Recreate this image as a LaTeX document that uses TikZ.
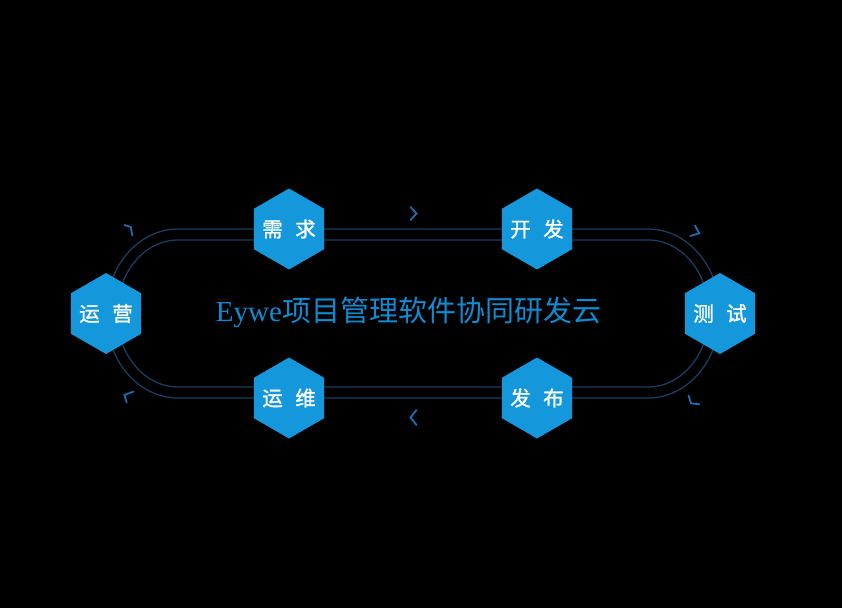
\documentclass[tikz,border=0pt]{standalone}
\usepackage{fontspec}
\setmainfont{Liberation Serif}
\newfontfamily\cjk{Noto Sans CJK SC}
\newfontfamily\cjkm{Noto Sans CJK SC}[AutoFakeBold=1.2]
\usetikzlibrary{shapes.geometric}
\definecolor{hexblue}{HTML}{1498DB}
\definecolor{trackc}{HTML}{1B3D60}
\definecolor{chevc}{HTML}{1F6DB0}
\definecolor{titlec}{HTML}{0E8CD2}
\tikzset{
  hexnode/.style={regular polygon, regular polygon sides=6, shape border rotate=30,
    minimum size=81pt, inner sep=0pt, fill=hexblue, draw=none},
  hexlabel/.style={text=white, inner sep=0pt,
    font=\cjkm\bfseries\fontsize{20.5}{20.5}\selectfont},
  track/.style={draw=trackc, line width=1.3pt},
  chev/.style={draw=chevc, line width=1.8pt, line cap=round, line join=miter},
}
\newcommand{\hexlab}[2]{#1\hspace{12.5pt}#2}
\begin{document}
\begin{tikzpicture}[x=1pt,y=1pt]
\fill[black] (0,0) rectangle (842,608);
\useasboundingbox (0,0) rectangle (842,608);
% tracks
\draw[track] (178,379) -- (648,379) arc[start angle=90, end angle=-90, x radius=72pt, y radius=84.5pt]
  -- (178,210) arc[start angle=-90, end angle=-270, x radius=72pt, y radius=84.5pt] -- cycle;
\draw[track] (178,368) -- (648,368) arc[start angle=90, end angle=-90, x radius=61pt, y radius=73.5pt]
  -- (178,221) arc[start angle=-90, end angle=-270, x radius=61pt, y radius=73.5pt] -- cycle;
% chevrons
\draw[chev] (410.5,401) -- (416.5,394.5) -- (410.5,388);
\draw[chev] (416.5,198) -- (410.5,190.5) -- (416.5,183);
\draw[chev] (124.5,383) -- (130.8,381) -- (132.3,372.5);
\draw[chev] (133.3,216.3) -- (124.5,213) -- (126.7,205.5);
\draw[chev] (695,382.5) -- (699.3,374.7) -- (690.3,372);
\draw[chev] (688.5,212.5) -- (691,204.7) -- (699.3,203.7);
% hexagons
\node[hexnode, label={[hexlabel]center:\hexlab{需}{求}}] (xq) at (289,379) {};
\node[hexnode, label={[hexlabel]center:\hexlab{开}{发}}] (kf) at (537,379) {};
\node[hexnode, label={[hexlabel]center:\hexlab{测}{试}}] (cs) at (720,294.5) {};
\node[hexnode, label={[hexlabel]center:\hexlab{发}{布}}] (fb) at (537,210) {};
\node[hexnode, label={[hexlabel]center:\hexlab{运}{维}}] (yw) at (289,210) {};
\node[hexnode, label={[hexlabel]center:\hexlab{运}{营}}] (yy) at (106,294.5) {};
% title
\node[text=titlec, font=\fontsize{29}{29}\selectfont, inner sep=0pt] (title) at (408.5,296)
  {Eywe{\cjk 项目管理软件协同研发云}};
\end{tikzpicture}
\end{document}
